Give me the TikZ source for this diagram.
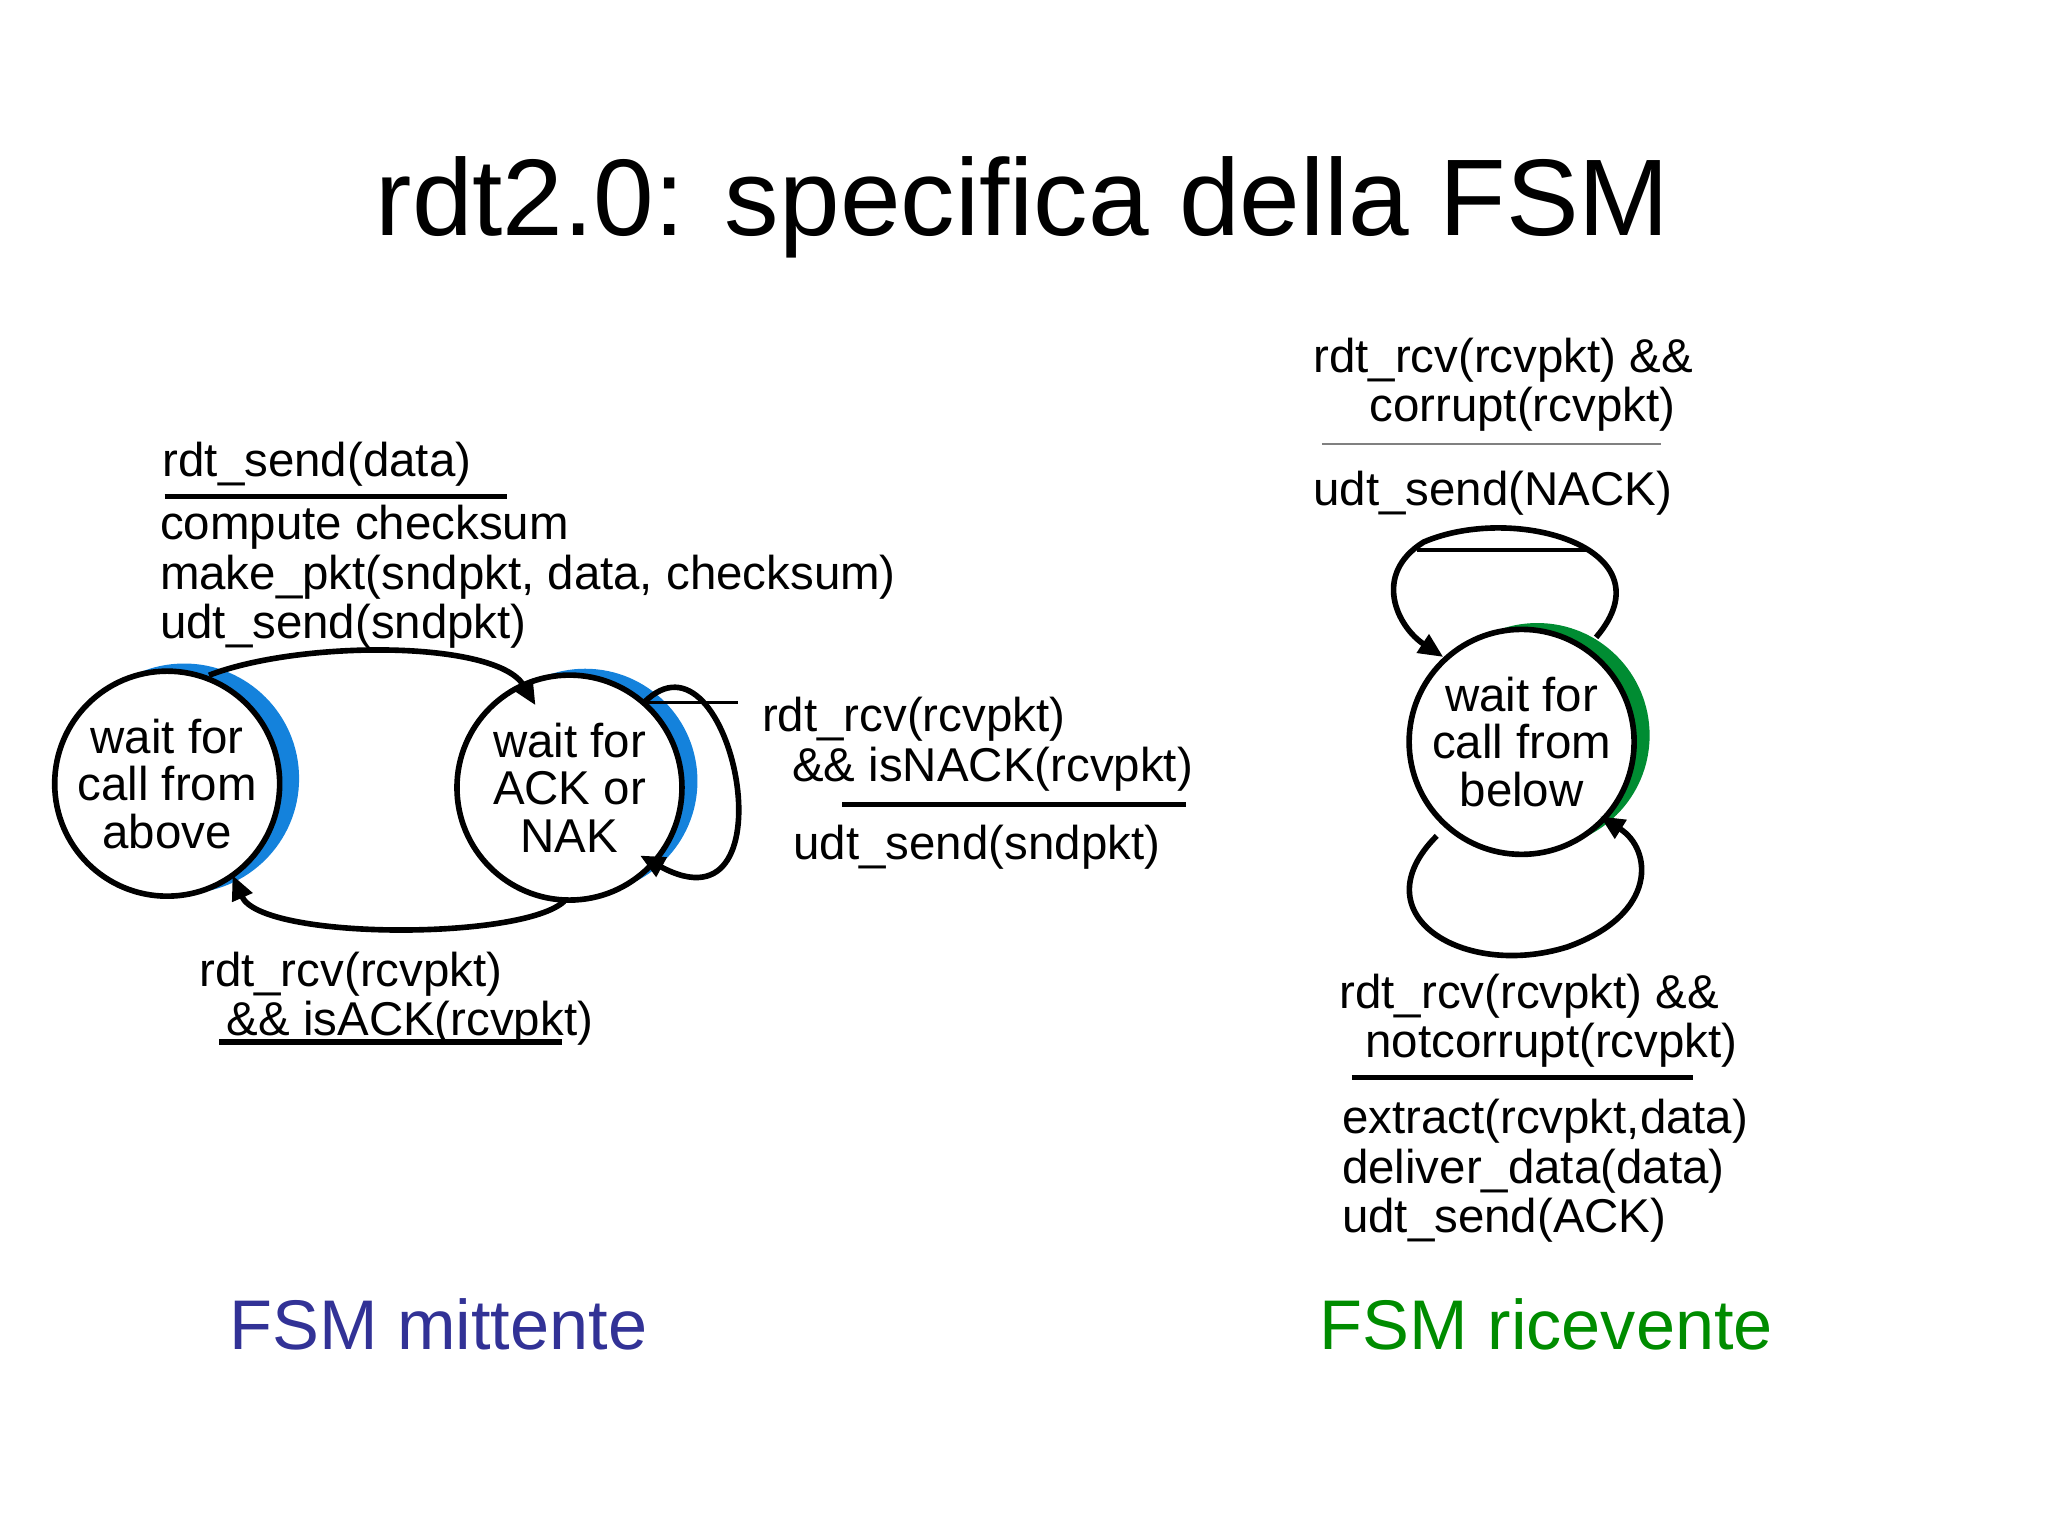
\documentclass[tikz,border=0pt]{standalone}
\usepackage{fontspec}
\setmainfont{Liberation Sans}
\usetikzlibrary{arrows.meta}
\definecolor{sblue}{RGB}{20,130,220}
\definecolor{sgreen}{RGB}{0,140,50}
\definecolor{lblue}{RGB}{50,50,150}
\definecolor{lgreen}{RGB}{0,140,0}
\begin{document}
\begin{tikzpicture}[x=0.013061cm,y=-0.013061cm,
  txt/.style={anchor=base west,inner sep=0pt,font=\fontsize{13.5}{16}\selectfont},
  st/.style={circle,draw,line width=1.6pt,fill=white,minimum size=172\pgflinewidth*0+2.25cm,align=center,font=\fontsize{13.5}{13.5}\selectfont,inner sep=0pt},
  tr/.style={line width=1.6pt,-{Triangle[length=7pt,width=6pt]}},
  sep/.style={line width=1.6pt}]
\useasboundingbox (0,0) rectangle (1568,1176);
\node[anchor=base,inner sep=0pt,font=\fontsize{31}{31}\selectfont] (title) at (783,180) {rdt2.0: specifica della FSM};
% crescents
\fill[sblue] (141,596) circle (88);
\fill[sblue] (448,598) circle (86);
\fill[sgreen] (1177,563) circle (86);
\node[st] (A) at (128,600) {wait for\\call from\\above};
\node[st] (B) at (436,603) {wait for\\ACK or\\NAK};
\node[st] (C) at (1165,568) {wait for\\call from\\below};
\coordinate (a1) at (160,517);
\coordinate (b1) at (410,540);
\coordinate (b2) at (432,690);
\coordinate (a2) at (178,670);
\coordinate (b3) at (493,538);
\coordinate (b4) at (490,655);
\draw[tr] (a1) .. controls (230,490) and (380,490) .. (b1);
\draw[tr] (b2) .. controls (400,720) and (200,720) .. (a2);
\draw[tr] (b3) .. controls (560,470) and (610,720) .. (b4);
\draw[line width=1pt] (b3) -- (565,538);
\coordinate (c1) at (1222,488);
\coordinate (c2) at (1105,503);
\coordinate (c3) at (1100,640);
\coordinate (c4) at (1225,625);
\draw[tr] (c1) .. controls (1280,420) and (1160,385) .. (1090,415) .. controls (1050,440) and (1070,480) .. (c2);
\draw[line width=1pt] (1085,421) -- (1215,421);
\draw[tr] (c3) .. controls (1040,700) and (1120,750) .. (1200,725) .. controls (1270,700) and (1265,650) .. (c4);
% sender labels
\node[txt] (l1) at (124,365) {rdt\_send(data)};
\draw[sep] (126,380) -- (388,380);
\node[txt] (l2) at (122,413) {compute checksum};
\node[txt] (l3) at (122,451) {make\_pkt(sndpkt, data, checksum)};
\node[txt] (l4) at (122,489) {udt\_send(sndpkt)};
\node[txt] (n1) at (583,560) {rdt\_rcv(rcvpkt)};
\node[txt] (n2) at (606,598) {\&\& isNACK(rcvpkt)};
\draw[sep] (645,616) -- (908,616);
\node[txt] (n3) at (607,658) {udt\_send(sndpkt)};
\node[txt] (k1) at (152,755) {rdt\_rcv(rcvpkt)};
\node[txt] (k2) at (173,793) {\&\& isACK(rcvpkt)};
\draw[sep] (168,798) -- (430,798);
% receiver labels
\node[txt] (r1) at (1005,285) {rdt\_rcv(rcvpkt) \&\&};
\node[txt] (r2) at (1048,323) {corrupt(rcvpkt)};
\draw[line width=0.6pt,gray] (1012,340) -- (1272,340);
\node[txt] (r3) at (1005,387) {udt\_send(NACK)};
\node[txt] (s1) at (1025,772) {rdt\_rcv(rcvpkt) \&\&};
\node[txt] (s2) at (1045,810) {notcorrupt(rcvpkt)};
\draw[sep] (1035,825) -- (1296,825);
\node[txt] (s3) at (1027,868) {extract(rcvpkt,data)};
\node[txt] (s4) at (1027,906) {deliver\_data(data)};
\node[txt] (s5) at (1027,944) {udt\_send(ACK)};
\node[anchor=base west,inner sep=0pt,font=\fontsize{20}{20}\selectfont,text=lblue] (f1) at (175,1033) {FSM mittente};
\node[anchor=base west,inner sep=0pt,font=\fontsize{20}{20}\selectfont,text=lgreen] (f2) at (1010,1033) {FSM ricevente};
\end{tikzpicture}
\end{document}
